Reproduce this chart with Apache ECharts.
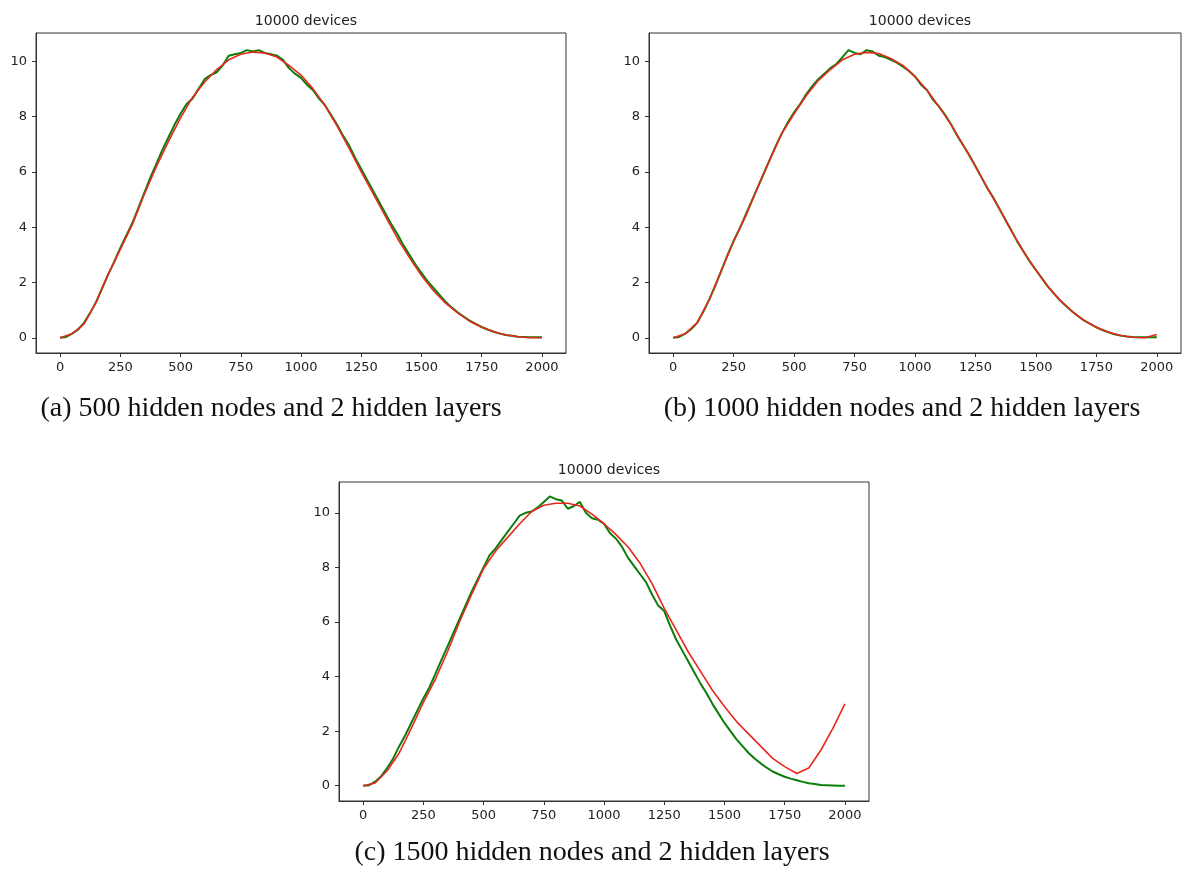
<!DOCTYPE html>
<html lang="en">
<head>
    <meta charset="UTF-8">
    <title>10000 devices</title>
    <style>
        html, body { margin: 0; padding: 0; background: #fff; }
        #chart { width: 1182px; height: 889px; }
    </style>
</head>
<body>
    <div id="chart"></div>
    <script src="https://cdn.jsdelivr.net/npm/echarts@6/dist/echarts.min.js"></script>
    <script>
        // sample positions (x) for the two kinds of curves
        var stepRed = 50;
        var stepGreen = 25;

        // (a) 500 hidden nodes
        var redA = [0.0, 0.15, 0.5, 1.3, 2.3, 3.2, 4.1, 5.2, 6.2, 7.1, 7.95, 8.7, 9.25, 9.7, 10.05, 10.25, 10.33, 10.3, 10.15, 9.85, 9.5,
            9.0, 8.4, 7.65, 6.85, 6.0, 5.2, 4.4, 3.6, 2.9, 2.25, 1.7, 1.25, 0.9, 0.6, 0.38, 0.22, 0.1, 0.04, 0.0, 0.0];
        var greenA = [0.0, 0.03, 0.15, 0.3, 0.55, 0.9, 1.3, 1.8, 2.3, 2.75, 3.25, 3.7, 4.15, 4.7, 5.25, 5.8, 6.3, 6.8, 7.25, 7.7,
            8.1, 8.45, 8.65, 9.0, 9.35, 9.5, 9.6, 9.85, 10.2, 10.25, 10.3, 10.4, 10.35, 10.4, 10.3, 10.25, 10.2, 10.05, 9.75, 9.55,
            9.4, 9.15, 8.95, 8.65, 8.4, 8.05, 7.7, 7.3, 6.95, 6.5, 6.1, 5.7, 5.3, 4.9, 4.5, 4.1, 3.75, 3.35, 3.0, 2.65,
            2.35, 2.05, 1.8, 1.55, 1.3, 1.1, 0.92, 0.77, 0.62, 0.5, 0.39, 0.3, 0.22, 0.15, 0.1, 0.07, 0.04, 0.03, 0.02, 0.02, 0.02];

        // (b) 1000 hidden nodes
        var redB = [0.0, 0.15, 0.55, 1.4, 2.45, 3.5, 4.4, 5.45, 6.45, 7.4, 8.1, 8.75, 9.3, 9.7, 10.05, 10.25, 10.32, 10.28, 10.1, 9.85, 9.45,
            8.95, 8.35, 7.7, 6.95, 6.2, 5.4, 4.65, 3.85, 3.1, 2.45, 1.85, 1.35, 0.95, 0.62, 0.38, 0.2, 0.08, 0.02, 0.0, 0.12];
        var greenB = [0.0, 0.03, 0.15, 0.32, 0.55, 0.95, 1.4, 1.9, 2.45, 3.0, 3.5, 3.95, 4.45, 4.95, 5.45, 5.95, 6.45, 6.95, 7.4, 7.8,
            8.15, 8.45, 8.8, 9.1, 9.35, 9.55, 9.75, 9.9, 10.15, 10.4, 10.3, 10.25, 10.4, 10.35, 10.2, 10.15, 10.05, 9.95, 9.8, 9.65,
            9.45, 9.15, 8.95, 8.6, 8.35, 8.05, 7.7, 7.3, 6.95, 6.6, 6.2, 5.8, 5.4, 5.05, 4.65, 4.25, 3.85, 3.45, 3.1, 2.75,
            2.45, 2.15, 1.85, 1.6, 1.35, 1.15, 0.95, 0.78, 0.62, 0.5, 0.38, 0.28, 0.2, 0.13, 0.08, 0.05, 0.03, 0.02, 0.02, 0.02, 0.02];

        // (c) 1500 hidden nodes
        var redC = [0.0, 0.1, 0.55, 1.2, 2.1, 3.05, 3.9, 4.9, 6.0, 7.0, 7.95, 8.6, 9.1, 9.6, 10.05, 10.28, 10.35, 10.35, 10.25, 9.95, 9.6,
            9.2, 8.75, 8.15, 7.4, 6.5, 5.7, 4.9, 4.2, 3.5, 2.9, 2.35, 1.9, 1.45, 1.0, 0.7, 0.45, 0.65, 1.3, 2.1, 3.0];
        var greenC = [0.0, 0.02, 0.15, 0.35, 0.65, 1.0, 1.45, 1.85, 2.3, 2.75, 3.2, 3.6, 4.1, 4.6, 5.1, 5.6, 6.1, 6.6, 7.1, 7.55,
            8.0, 8.45, 8.7, 9.0, 9.3, 9.6, 9.9, 10.0, 10.05, 10.2, 10.4, 10.6, 10.5, 10.45, 10.15, 10.25, 10.4, 10.0, 9.8, 9.75,
            9.6, 9.25, 9.05, 8.75, 8.35, 8.05, 7.75, 7.45, 7.0, 6.6, 6.4, 5.85, 5.35, 4.95, 4.55, 4.15, 3.75, 3.4, 3.0, 2.65,
            2.3, 2.0, 1.7, 1.45, 1.2, 1.0, 0.82, 0.66, 0.52, 0.42, 0.33, 0.26, 0.2, 0.14, 0.09, 0.06, 0.03, 0.02, 0.01, 0.0, 0.0];

        var xTicks = [0, 250, 500, 750, 1000, 1250, 1500, 1750, 2000];
        var yTicks = [0, 2, 4, 6, 8, 10];
        var titleText = '10000 devices';
        var captions = [
            '(a) 500 hidden nodes and 2 hidden layers',
            '(b) 1000 hidden nodes and 2 hidden layers',
            '(c) 1500 hidden nodes and 2 hidden layers'
        ];

        function pairs(step, ys) {
            return ys.map(function (v, i) { return [i * step, v]; });
        }

        var panels = [
            { left: 36, top: 33, width: 530, height: 320, ymin: -0.55, ymax: 11.02, red: redA, green: greenA, capX: 266, capY: 390 },
            { left: 649, top: 33, width: 532, height: 320, ymin: -0.55, ymax: 11.02, red: redB, green: greenB, capX: 897, capY: 390 },
            { left: 339, top: 482, width: 530, height: 319, ymin: -0.56, ymax: 11.13, red: redC, green: greenC, capX: 587, capY: 834 }
        ];

        var tickFont = { fontFamily: 'DejaVu Sans', fontSize: 13, color: '#222' };

        var option = {
            animation: false,
            backgroundColor: '#fff',
            title: [],
            grid: [],
            xAxis: [],
            yAxis: [],
            series: []
        };

        panels.forEach(function (p, k) {
            option.title.push({
                text: titleText,
                left: p.left + p.width / 2,
                top: p.top - 24,
                textAlign: 'center',
                textStyle: { fontFamily: 'DejaVu Sans', fontSize: 14, fontWeight: 'normal', color: '#222' }
            });
            option.title.push({
                text: captions[k],
                left: p.capX,
                top: p.capY,
                textAlign: 'center',
                textStyle: { fontFamily: 'Liberation Serif', fontSize: 28, fontWeight: 'normal', color: '#111' }
            });
            option.grid.push({
                left: p.left, top: p.top, width: p.width, height: p.height,
                show: true, borderColor: '#333', borderWidth: 1, backgroundColor: '#fff'
            });
            option.xAxis.push({
                type: 'value', gridIndex: k, min: -100, max: 2100,
                splitLine: { show: false },
                axisLine: { show: true, onZero: false, lineStyle: { color: '#333' } },
                axisTick: { show: true, inside: false, length: 4, customValues: xTicks, lineStyle: { color: '#333' } },
                axisLabel: Object.assign({ margin: 8, customValues: xTicks, formatter: function (v) { return String(v); } }, tickFont)
            });
            option.yAxis.push({
                type: 'value', gridIndex: k, min: p.ymin, max: p.ymax,
                splitLine: { show: false },
                axisLine: { show: true, onZero: false, lineStyle: { color: '#333' } },
                axisTick: { show: true, inside: false, length: 4, customValues: yTicks, lineStyle: { color: '#333' } },
                axisLabel: Object.assign({ margin: 9, customValues: yTicks, formatter: function (v) { return String(v); } }, tickFont)
            });
            option.series.push({
                type: 'line', xAxisIndex: k, yAxisIndex: k,
                data: pairs(stepGreen, p.green),
                showSymbol: false, symbol: 'none',
                lineStyle: { color: '#0a7d0a', width: 2 }
            });
            option.series.push({
                type: 'line', xAxisIndex: k, yAxisIndex: k,
                data: pairs(stepRed, p.red),
                showSymbol: false, symbol: 'none',
                lineStyle: { color: '#e8281e', width: 1.6 }
            });
        });

        var chart = echarts.init(document.getElementById('chart'));
        chart.setOption(option);
    </script>
</body>
</html>
